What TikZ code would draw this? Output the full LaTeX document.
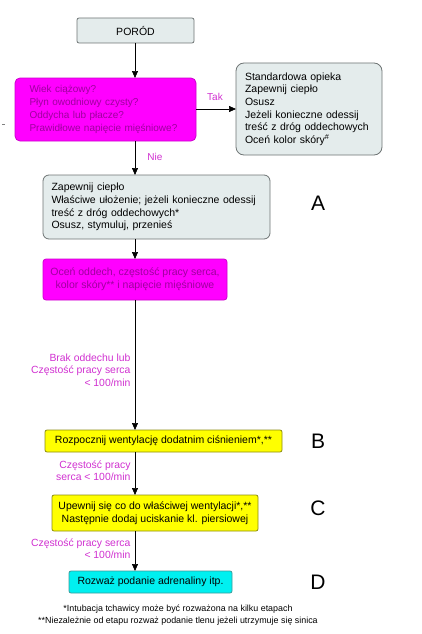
\documentclass[tikz,border=0pt]{standalone}
\usepackage{fontspec}
\setmainfont{Liberation Sans}
\usetikzlibrary{arrows.meta}

\definecolor{boxgray}{HTML}{E4ECEC}
\definecolor{linegray}{HTML}{6E7474}
\definecolor{mag}{HTML}{FF00FF}
\definecolor{magtext}{HTML}{9E009E}
\definecolor{maglabel}{HTML}{D030D0}
\definecolor{yel}{HTML}{FFFF00}
\definecolor{yelline}{HTML}{8C8C10}
\definecolor{cya}{HTML}{00F0F0}
\definecolor{cyaline}{HTML}{3C9A9A}

\begin{document}
\begin{tikzpicture}[x=1pt,y=-1pt,
    font=\fontsize{10.5}{12.6}\selectfont,
    box/.style={draw, line width=0.8pt, inner sep=0pt, outer sep=0pt},
    graybox/.style={box, fill=boxgray, draw=linegray},
    magbox/.style={box, fill=mag, draw=mag!80!black, text=magtext, rounded corners=5pt},
    yelbox/.style={box, fill=yel, draw=yelline, rounded corners=2pt},
    arr/.style={-{Triangle[width=6pt,length=7pt]}, line width=0.7pt},
    lbl/.style={text=maglabel, align=right, anchor=east, font=\fontsize{10.4}{12.4}\selectfont},
    stage/.style={font=\fontsize{21}{21}\selectfont}]
  \useasboundingbox (0,0) rectangle (421,634);

  \coordinate (col) at (135,0);

  \node[graybox, rounded corners=2pt, minimum width=117pt, minimum height=25pt] (porod) at (135.5,30.5) {PORÓD};
  \node[magbox, minimum width=181pt, minimum height=63pt, text width=152pt, align=left,
        font=\fontsize{10}{13}\selectfont] (q1) at (105.5,109.5)
    {Wiek ciążowy?\\Płyn owodniowy czysty?\\Oddycha lub płacze?\\Prawidłowe napięcie mięśniowe?};
  \node[graybox, rounded corners=8pt, minimum width=146pt, minimum height=92pt, text width=128pt, align=left] (care) at (309,109)
    {Standardowa opieka\\Zapewnij ciepło\\Osusz\\Jeżeli konieczne odessij\\treść z dróg oddechowych\\Oceń kolor skóry\textsuperscript{\#}};
  \node[graybox, rounded corners=6pt, minimum width=227pt, minimum height=64pt, text width=210pt, align=left] (boxA) at (156.5,207)
    {Zapewnij ciepło\\Właściwe ułożenie; jeżeli konieczne odessij\\treść z dróg oddechowych*\\Osusz, stymuluj, przenieś};
  \node[magbox, rounded corners=3pt, minimum width=184pt, minimum height=41pt, align=center] (ocen) at (135,279.5)
    {Oceń oddech, częstość pracy serca,\\kolor skóry** i napięcie mięśniowe};
  \node[yelbox, minimum width=237pt, minimum height=22pt] (vent) at (163.5,441) {Rozpocznij wentylację dodatnim ciśnieniem*,**};
  \node[yelbox, minimum width=206pt, minimum height=36pt, align=center] (check) at (155,513)
    {Upewnij się co do właściwej wentylacji*,**\\Następnie dodaj uciskanie kl. piersiowej};
  \node[box, fill=cya, draw=cyaline, rounded corners=2pt, minimum width=163pt, minimum height=22pt] (adr) at (150.5,582)
    {Rozważ podanie adrenaliny itp.};

  \node[stage] (stA) at (318,203) {A};
  \node[stage] (stB) at (318,441) {B};
  \node[stage] (stC) at (318,508) {C};
  \node[stage] (stD) at (318,582) {D};

  \draw[arr] (col |- porod.south) -- (col |- q1.north);
  \draw[arr] (q1.east |- care.west) -- (care.west);
  \node[text=maglabel, font=\fontsize{10}{12}\selectfont] (tak) at (215,97) {Tak};
  \draw[arr] (col |- q1.south) -- (col |- boxA.north);
  \node[text=maglabel, font=\fontsize{10}{12}\selectfont] (nie) at (155,157) {Nie};
  \draw[arr] (col |- boxA.south) -- (col |- ocen.north);
  \draw[arr] (col |- ocen.south) -- (col |- vent.north);
  \node[lbl] (l1) at (134,370) {Brak oddechu lub\\Częstość pracy serca\\< 100/min};
  \draw[arr] (col |- vent.south) -- (col |- check.north);
  \node[lbl] (l2) at (134,471) {Częstość pracy\\serca < 100/min};
  \draw[arr] (col |- check.south) -- (col |- adr.north);
  \node[lbl] (l3) at (134,549) {Częstość pracy serca\\< 100/min};

  \node[align=center, font=\fontsize{8.9}{11.8}\selectfont] (foot) at (178,615)
    {*Intubacja tchawicy może być rozważona na kilku etapach\\**Niezależnie od etapu rozważ podanie tlenu jeżeli utrzymuje się sinica};

  \draw[gray, line width=0.6pt] (2,124) -- (5,124);
\end{tikzpicture}
\end{document}
